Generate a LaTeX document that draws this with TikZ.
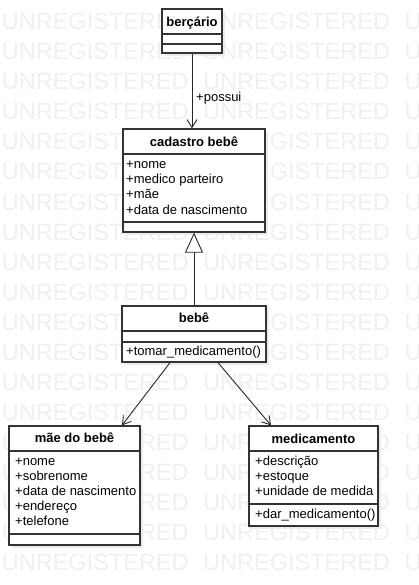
\documentclass[tikz,border=0pt]{standalone}
\usepackage{fontspec}
\setmainfont{Liberation Sans}
\usetikzlibrary{arrows.meta}
\usetikzlibrary{shadows}

\tikzset{
 cls/.style={draw=black!80, line width=1.3pt, fill=white, inner sep=0,
   drop shadow={shadow xshift=3pt, shadow yshift=-3pt, fill=black!8, opacity=1}},
 sep/.style={draw=black!80, line width=1.3pt},
 title/.style={anchor=base, inner sep=0, font=\bfseries\fontsize{13}{15}\selectfont},
 attr/.style={anchor=base west, inner sep=0, font=\fontsize{13}{15}\selectfont},
 wm/.style={anchor=base west, inner sep=0, text=black!6, font=\fontsize{23.5}{25}\selectfont},
 assoc/.style={black!85, line width=0.9pt, -{Straight Barb[length=8pt,width=10pt]}},
 gen/.style={black!85, line width=0.9pt, -{Triangle[open,length=20pt,width=18pt,fill=white]}},
}

\begin{document}
\begin{tikzpicture}[x=1pt, y=-1pt]
\useasboundingbox[fill=white] (0,0) rectangle (419,585);
% watermark
\foreach \r in {0,...,18} {
 \foreach \c in {0,1,2} {
  \node[wm] (wm-\r-\c) at (1.7+201.3*\c, 30+30*\r) {UNREGISTERED};
 }
}
% classes
\node[cls, minimum width=60pt, minimum height=44pt] (bercario) at (192,31) {};
\node[title] (bercario-t) at (192,26.7) {berçário};
\draw[sep] (bercario.west |- 0,34) -- (bercario.east |- 0,34);
\draw[sep] (bercario.west |- 0,44) -- (bercario.east |- 0,44);

\node[cls, minimum width=142pt, minimum height=103pt] (cadastro) at (194,180.5) {};
\node[title] (cadastro-t) at (194,146.7) {cadastro bebê};
\draw[sep] (cadastro.west |- 0,154) -- (cadastro.east |- 0,154);
\draw[sep] (cadastro.west |- 0,222) -- (cadastro.east |- 0,222);
\foreach \a [count=\i from 0] in {+nome, +medico parteiro, +mãe, +data de nascimento}
 \node[attr] (cadastro-\i) at (126,169+15*\i) {\a};

\node[cls, minimum width=144pt, minimum height=56pt] (bebe) at (194,334) {};
\node[title] (bebe-t) at (194,322.3) {bebê};
\draw[sep] (bebe.west |- 0,331) -- (bebe.east |- 0,331);
\draw[sep] (bebe.west |- 0,342) -- (bebe.east |- 0,342);
\node[attr] (bebe-m) at (126,355.3) {+tomar\_medicamento()};

\node[cls, minimum width=131pt, minimum height=119pt] (mae) at (74.5,485.5) {};
\node[title] (mae-t) at (74.5,442.3) {mãe do bebê};
\draw[sep] (mae.west |- 0,451) -- (mae.east |- 0,451);
\draw[sep] (mae.west |- 0,534) -- (mae.east |- 0,534);
\foreach \a [count=\i from 0] in {+nome, +sobrenome, +data de nascimento, +endereço, +telefone}
 \node[attr] (mae-\i) at (15,465.7+15*\i) {\a};

\node[cls, minimum width=129pt, minimum height=100pt] (medicamento) at (313.5,476) {};
\node[title] (medicamento-t) at (313.5,443.3) {medicamento};
\draw[sep] (medicamento.west |- 0,451) -- (medicamento.east |- 0,451);
\draw[sep] (medicamento.west |- 0,504) -- (medicamento.east |- 0,504);
\foreach \a [count=\i from 0] in {+descrição, +estoque, +unidade de medida}
 \node[attr] (medicamento-\i) at (255,465.7+15*\i) {\a};
\node[attr] (medicamento-m) at (255,518.3) {+dar\_medicamento()};

% connectors
\draw[assoc] (bercario.south) -- (bercario.south |- cadastro.north);
\node[attr] (possui) at (196,102) {+possui};
\draw[gen] (bebe.north) -- (cadastro.south);
\draw[assoc] ([xshift=-24pt]bebe.south) -- ([xshift=47.5pt]mae.north);
\draw[assoc] ([xshift=24pt]bebe.south) -- ([xshift=-42.5pt]medicamento.north);
\end{tikzpicture}
\end{document}
